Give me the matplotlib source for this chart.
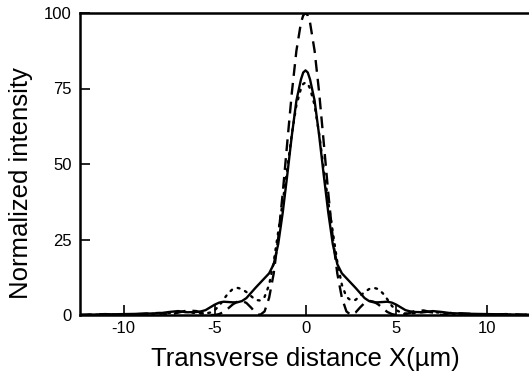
import matplotlib
matplotlib.use("Agg")
import matplotlib.pyplot as plt

plt.rcParams['font.family'] = ['Liberation Sans', 'DejaVu Sans']

# Transverse positions (um)
x = [-12.4, -11.0, -10.0, -9.0, -8.0, -7.5, -7.0, -6.5, -6.0, -5.75, -5.5, -5.25, -5.0,
     -4.75, -4.5, -4.25, -4.0, -3.75, -3.5, -3.25, -3.0, -2.75, -2.5, -2.25, -2.0,
     -1.75, -1.5, -1.25, -1.0, -0.75, -0.5, -0.25, -0.125, 0.0, 0.125,
     0.25, 0.5, 0.75, 1.0, 1.25, 1.5, 1.75, 2.0, 2.25, 2.5, 2.75, 3.0, 3.25, 3.5,
     3.75, 4.0, 4.25, 4.5, 4.75, 5.0, 5.25, 5.5, 5.75, 6.0, 6.5, 7.0, 7.5, 8.0,
     9.0, 10.0, 11.0, 12.4]

# Solid curve
solid = [0.1, 0.2, 0.3, 0.4, 0.6, 1.0, 1.3, 0.9, 1.0, 1.2, 1.6, 2.5, 3.4,
         4.1, 4.4, 4.3, 4.2, 4.2, 4.6, 5.6, 7.3, 9.0, 10.6, 12.2, 13.8,
         16.8, 23.5, 34.0, 46.5, 59.5, 71.0, 78.0, 80.3, 81.0, 80.3,
         78.0, 71.0, 59.5, 46.5, 34.0, 23.5, 16.8, 13.8, 12.2, 10.6, 9.0, 7.3, 5.6, 4.6,
         4.2, 4.2, 4.3, 4.4, 4.1, 3.4, 2.5, 1.6, 1.2, 1.0, 0.9, 1.3, 1.0, 0.6,
         0.4, 0.3, 0.2, 0.1]

# Dashed curve
dashed = [0.0, 0.3, 0.0, 0.4, 0.7, 0.0, 0.8, 1.5, 1.3, 0.7, 0.3, 0.0, 0.0,
          0.3, 1.0, 2.2, 3.5, 4.4, 4.7, 4.0, 2.5, 0.8, 0.0, 1.2, 5.7,
          13.7, 25.5, 40.5, 57.3, 73.7, 87.5, 96.8, 99.2, 100.0, 99.2,
          96.8, 87.5, 73.7, 57.3, 40.5, 25.5, 13.7, 5.7, 1.2, 0.0, 0.8, 2.5, 4.0, 4.7,
          4.4, 3.5, 2.2, 1.0, 0.3, 0.0, 0.0, 0.3, 0.7, 1.3, 1.5, 0.8, 0.0, 0.7,
          0.4, 0.0, 0.3, 0.0]

# Dotted curve
dotted = [0.0, 0.1, 0.2, 0.3, 0.4, 0.7, 1.0, 1.0, 0.6, 0.5, 0.5, 0.8, 1.6,
          3.0, 5.2, 7.2, 8.6, 9.0, 8.6, 7.6, 6.3, 5.0, 4.8, 6.0, 10.0,
          17.5, 27.5, 37.5, 48.5, 60.0, 69.5, 75.0, 76.5, 77.0, 76.5,
          75.0, 69.5, 60.0, 48.5, 37.5, 27.5, 17.5, 10.0, 6.0, 4.8, 5.0, 6.3, 7.6, 8.6,
          9.0, 8.6, 7.2, 5.2, 3.0, 1.6, 0.8, 0.5, 0.5, 0.6, 1.0, 1.0, 0.7, 0.4,
          0.3, 0.2, 0.1, 0.0]

xticks = [-10, -5, 0, 5, 10]
yticks = [0, 25, 50, 75, 100]

W, H = 529, 383
fig = plt.figure(figsize=(W / 100, H / 100), dpi=100)
ax = fig.add_axes([80 / W, (H - 315) / H, (531 - 80) / W, (315 - 13) / H])

ax.plot(x, solid, color='black', lw=1.7, ls='-', solid_joinstyle='round')
ax.plot(x, dashed, color='black', lw=1.7, ls=(0, (5, 3)))
ax.plot(x, dotted, color='black', lw=1.7, ls=(0, (0.8, 2.6)), dash_capstyle='round')

ax.set_xlim(-12.4, 12.4)
ax.set_ylim(0, 100)
ax.set_xticks(xticks)
ax.set_yticks(yticks)
ax.set_xticklabels([str(t) for t in xticks])
ax.set_yticklabels([str(t) for t in yticks])
ax.tick_params(direction='in', length=7, width=1.2, labelsize=12, colors='black')
ax.tick_params(axis='x', pad=4)
ax.tick_params(axis='y', pad=6)

for s in ['left', 'bottom', 'top']:
    ax.spines[s].set_linewidth(1.8)
ax.spines['right'].set_visible(False)

ax.set_xlabel('Transverse distance X(\u00b5m)', fontsize=18.5, labelpad=8)
ax.set_ylabel('Normalized intensity', fontsize=18.5)
ax.yaxis.set_label_coords(-0.104, 0.437)

fig.savefig('out.png', dpi=100)
